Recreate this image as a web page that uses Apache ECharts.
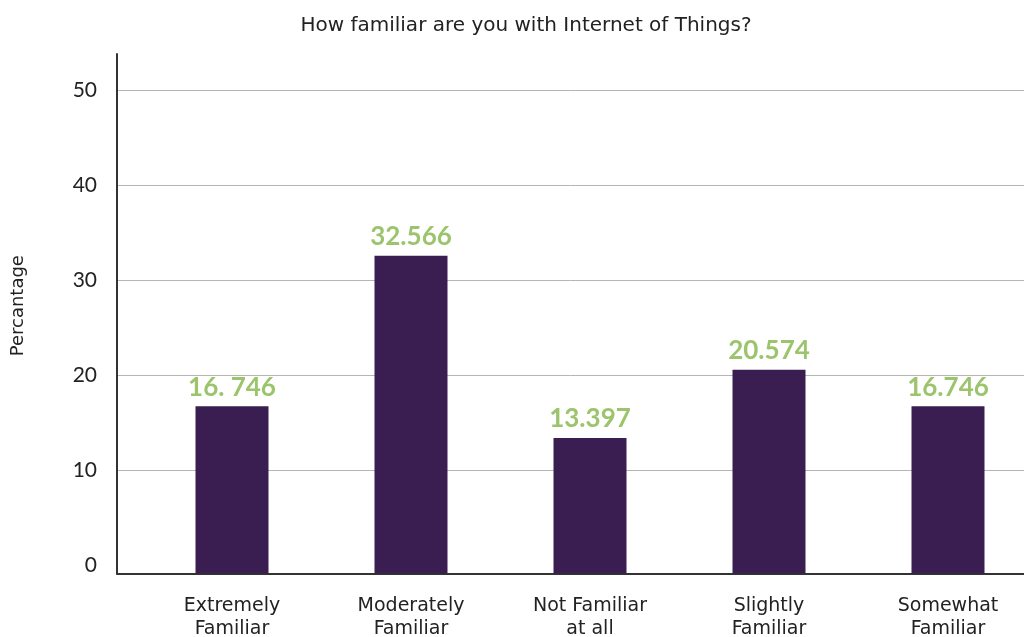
<!DOCTYPE html>
<html>
<head>
<meta charset="utf-8">
<script src="https://cdn.jsdelivr.net/npm/echarts@6/dist/echarts.min.js"></script>
<style>
  html, body { margin: 0; padding: 0; background: #ffffff; }
  #chart { width: 1024px; height: 637px; }
</style>
</head>
<body>
<div id="chart"></div>
<script>
// Survey: familiarity with the Internet of Things (percent of respondents)
const categories = ['Extremely\nFamiliar', 'Moderately\nFamiliar', 'Not Familiar\nat all', 'Slightly\nFamiliar', 'Somewhat\nFamiliar'];
const percentages = [16.746, 32.566, 13.397, 20.574, 16.746];
const valueLabels = ['16. 746', '32.566', '13.397', '20.574', '16.746'];
const yLabelValues = [0, 10, 20, 30, 40, 50];
const yGridValues = [10, 20, 30, 40, 50];

const Y_MIN = -0.85;
const Y_MAX = 53.8;
const FONT = 'Lato, "Noto Sans", sans-serif';
const WIDE_FONT = '"DejaVu Sans", "Noto Sans", sans-serif';

const chart = echarts.init(document.getElementById('chart'), null, { renderer: 'canvas' });

chart.setOption({
  backgroundColor: '#ffffff',
  animation: false,
  title: {
    text: 'How familiar are you with Internet of Things?',
    left: 521,
    textAlign: 'center',
    top: 11,
    textStyle: { fontFamily: WIDE_FONT, fontSize: 20, fontWeight: 'normal', color: '#222222' }
  },
  grid: [
    // frame: y axis, gridlines and baseline
    { left: 117, right: 0, top: 54, bottom: 63.6, containLabel: false, outerBoundsMode: 'none' },
    // bars and category labels
    { left: 142.5, width: 895, top: 54, bottom: 63.6, containLabel: false, outerBoundsMode: 'none' }
  ],
  xAxis: [
    {
      gridIndex: 0,
      type: 'value',
      min: 0,
      max: 1,
      axisLine: { show: true, onZero: false, lineStyle: { color: '#333333', width: 2 } },
      axisTick: { show: false },
      axisLabel: { show: false },
      splitLine: { show: false }
    },
    {
      gridIndex: 1,
      type: 'category',
      data: categories,
      axisLine: { show: false, onZero: false },
      axisTick: { show: false },
      axisLabel: {
        margin: 21,
        fontFamily: WIDE_FONT,
        fontSize: 19,
        lineHeight: 23,
        color: '#222222',
        interval: 0
      },
      splitLine: { show: false }
    }
  ],
  yAxis: [
    {
      gridIndex: 0,
      type: 'value',
      min: Y_MIN,
      max: Y_MAX,
      name: 'Percantage',
      nameLocation: 'middle',
      nameGap: 90,
      nameTextStyle: { fontFamily: WIDE_FONT, fontSize: 18, color: '#222222', padding: [0, 0, 0, 16] },
      axisLine: { show: true, onZero: false, lineStyle: { color: '#333333', width: 2 } },
      axisTick: { show: false, customValues: yGridValues },
      axisLabel: {
        customValues: yLabelValues,
        margin: 20,
        fontFamily: FONT,
        fontSize: 21,
        color: '#222222'
      },
      splitLine: { show: true, lineStyle: { color: '#b5b5b5', width: 1 } }
    },
    {
      gridIndex: 1,
      type: 'value',
      min: Y_MIN,
      max: Y_MAX,
      startValue: Y_MIN,
      show: false,
      splitLine: { show: false }
    }
  ],
  series: [
    {
      type: 'bar',
      xAxisIndex: 1,
      yAxisIndex: 1,
      data: percentages,
      barWidth: 73,
      itemStyle: { color: '#3b1e51' },
      label: {
        show: true,
        position: 'top',
        distance: 6,
        formatter: (p) => valueLabels[p.dataIndex],
        fontFamily: FONT,
        fontSize: 26,
        fontWeight: 'bold',
        color: '#9cc46c'
      }
    }
  ]
});
</script>
</body>
</html>
